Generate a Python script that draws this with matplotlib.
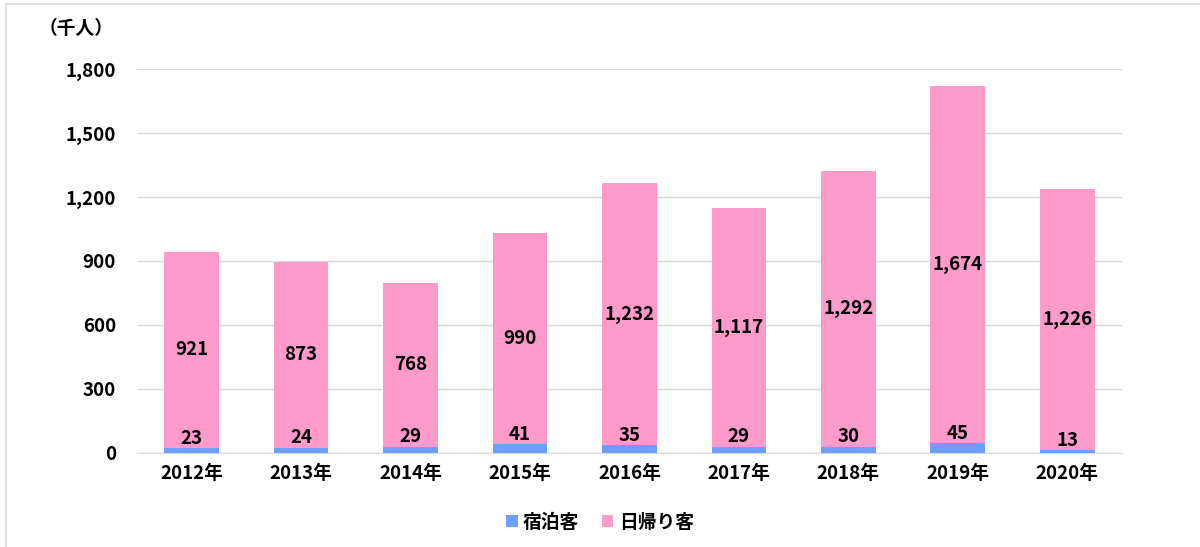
import matplotlib.pyplot as plt
import numpy as np
from matplotlib.patches import Rectangle

plt.rcParams['font.family'] = ['Noto Sans CJK JP', 'DejaVu Sans']

years = ["2012年", "2013年", "2014年", "2015年", "2016年", "2017年", "2018年", "2019年", "2020年"]
stay = [23, 24, 29, 41, 35, 29, 30, 45, 13]
daytrip = [921, 873, 768, 990, 1232, 1117, 1292, 1674, 1226]

blue = "#6E9EFF"
pink = "#FF9BCB"
fs = 13.5

fig = plt.figure(figsize=(12, 5.47), dpi=100)
ax = fig.add_axes([0.114, 0.172, 0.821, 0.702])

x = np.arange(len(years))
w = 0.5
ax.bar(x, stay, w, color=blue, label="宿泊客", zorder=3)
ax.bar(x, daytrip, w, bottom=stay, color=pink, label="日帰り客", zorder=3)

for i in range(len(years)):
    ax.text(x[i], stay[i] + 2, f"{stay[i]:,}", ha="center", va="bottom",
            fontsize=fs, fontweight="bold", zorder=4)
    ax.text(x[i], stay[i] + daytrip[i] / 2, f"{daytrip[i]:,}", ha="center", va="center",
            fontsize=fs, fontweight="bold", zorder=4)

ax.set_xlim(-0.5, len(years) - 0.5)
ax.set_ylim(0, 1800)
ax.set_yticks(np.arange(0, 1801, 300))
ax.set_yticklabels([f"{v:,}" for v in range(0, 1801, 300)], fontsize=fs, fontweight="bold")
ax.set_xticks(x)
ax.set_xticklabels(years, fontsize=fs, fontweight="bold")
ax.tick_params(axis="y", length=0, pad=15)
ax.tick_params(axis="x", length=0, pad=8)
ax.grid(axis="y", color="#d9d9d9", linewidth=1, zorder=0)
for s in ["left", "right", "top"]:
    ax.spines[s].set_visible(False)
ax.spines["bottom"].set_color("#d9d9d9")

fig.text(0.032, 0.948, "（千人）", fontsize=fs, fontweight="bold", va="center")

leg = fig.legend(loc="center", bbox_to_anchor=(0.5, 0.045), ncol=2, frameon=False,
                 prop={"size": fs, "weight": "bold"}, handlelength=0.6, handleheight=0.6,
                 columnspacing=1.2, handletextpad=0.3)

# light border around the chart area
fig.patches.append(Rectangle((0.005, -0.1), 1.2, 1.093, transform=fig.transFigure,
                             fill=False, edgecolor="#d9d9d9", linewidth=1.2))

fig.savefig("out.png", dpi=100)
